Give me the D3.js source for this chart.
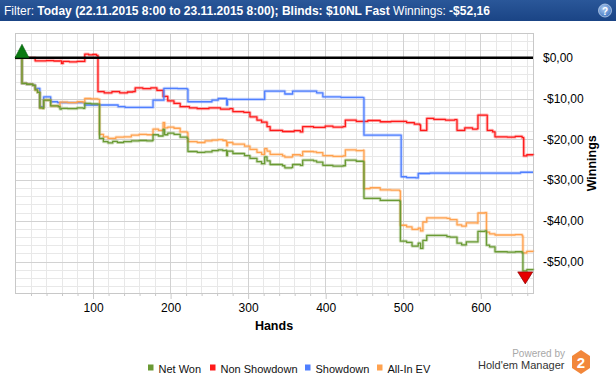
<!DOCTYPE html>
<html><head><meta charset="utf-8">
<script src="https://cdn.jsdelivr.net/npm/d3@7"></script>
<style>
html,body{margin:0;padding:0;background:#fff;}
svg{display:block;font-family:"Liberation Sans",Arial,sans-serif;}
</style></head>
<body><svg id="c" width="616" height="380"></svg>
<script>
// ---------- data ----------
const titleParts = [
  {t:"Filter: ", b:false},
  {t:"Today (22.11.2015 8:00 to 23.11.2015 8:00); Blinds: $10NL Fast", b:true},
  {t:" Winnings: ", b:false},
  {t:"-$52,16", b:true}
];
const seriesNames = ["Net Won","Non Showdown","Showdown","All-In EV"];
const seriesColors = ["#6a9a34","#ff1a1a","#4f7fff","#ffa24f"];
const xTickValues = [100,200,300,400,500,600];
const yTickValues = [0,-10,-20,-30,-40,-50];
const yTickLabels = ["$0,00","-$10,00","-$20,00","-$30,00","-$40,00","-$50,00"];

// [hand, cumulative $] (step after)
const netWon = [[0,0],[9,-6.3],[15,-6.5],[23,-6.8],[26,-7.9],[29,-8.5],[32,-12.3],[36,-12.4],[37,-10.4],[45,-10.4],[46,-11.8],[56,-12.0],[58,-12.6],[60,-12.4],[68,-12.5],[80,-12.3],[88,-12.4],[90,-11.2],[98,-11.3],[107,-11.4],[109,-19.8],[114,-20.6],[120,-20.9],[126,-20.5],[132,-20.8],[140,-20.6],[150,-20.4],[160,-20.3],[170,-20.4],[177,-20.3],[178,-18.9],[185,-19.2],[191,-17.6],[193,-18.9],[197,-18.5],[205,-18.8],[213,-19.5],[222,-19.8],[223,-23.0],[235,-23.2],[245,-23.1],[254,-22.8],[262,-22.6],[268,-22.8],[272,-22.7],[273,-24.0],[274,-22.9],[281,-23.5],[296,-24.0],[303,-24.7],[312,-25.5],[318,-26.0],[322,-24.3],[325,-25.3],[329,-26.2],[345,-26.5],[348,-27.0],[357,-26.9],[358,-26.2],[368,-26.4],[371,-25.1],[385,-25.3],[389,-25.6],[397,-26.4],[410,-26.6],[423,-26.5],[426,-25.1],[440,-25.4],[449,-25.5],[450,-34.5],[458,-34.5],[471,-35.0],[485,-35.0],[496,-35.2],[497,-45.0],[505,-45.3],[512,-46.2],[520,-45.5],[523,-46.8],[526,-44.8],[531,-43.6],[557,-43.9],[561,-44.0],[570,-45.5],[576,-45.9],[582,-45.2],[596,-45.2],[597,-42.6],[606,-42.5],[608,-46.0],[612,-46.4],[619,-47.6],[635,-47.7],[645,-47.6],[654,-47.9],[655,-52.3],[660,-52.0],[668,-52.16]];

const nonShowdown = [[0,0],[23,0],[26,-0.75],[40,-0.7],[50,-0.8],[58,-0.75],[60,-1.4],[62,-0.9],[70,-1.0],[80,-0.9],[88,-0.9],[90,0.9],[95,0.7],[100,0.8],[105,0.6],[107,-8.3],[115,-8.6],[125,-8.3],[135,-8.6],[145,-8.4],[152,-8.3],[155,-7.4],[165,-7.6],[175,-7.4],[182,-7.4],[183,-8.0],[191,-9.5],[197,-10.6],[205,-11.2],[213,-12.0],[225,-12.3],[235,-12.5],[250,-12.3],[265,-12.6],[277,-12.5],[281,-13.2],[295,-13.4],[303,-14.5],[312,-15.3],[318,-15.8],[325,-16.9],[329,-17.8],[345,-18.1],[360,-17.9],[368,-18.2],[371,-16.9],[385,-17.1],[400,-16.8],[410,-17.0],[423,-16.9],[426,-15.3],[440,-15.6],[455,-15.4],[471,-15.7],[485,-15.6],[496,-15.6],[505,-15.9],[515,-16.3],[522,-16.5],[523,-17.8],[531,-14.9],[540,-15.1],[555,-15.3],[567,-15.2],[570,-17.8],[580,-17.2],[590,-17.5],[596,-17.4],[597,-14.1],[606,-14.1],[609,-17.8],[616,-18.2],[619,-19.4],[635,-19.5],[645,-19.3],[654,-19.6],[656,-24.1],[660,-23.8],[668,-23.9]];

const showdown = [[0,0],[9,-6.3],[15,-6.5],[23,-6.7],[26,-7.5],[31,-7.5],[32,-12.0],[36,-12.0],[37,-9.6],[45,-9.6],[46,-10.8],[55,-11.0],[70,-11.0],[88,-11.0],[90,-11.6],[132,-11.6],[133,-12.0],[142,-12.2],[177,-12.2],[178,-10.4],[191,-10.4],[192,-7.5],[210,-7.6],[222,-7.7],[223,-10.8],[254,-10.4],[262,-10.0],[272,-10.0],[273,-11.6],[274,-10.2],[321,-10.2],[322,-8.2],[347,-8.2],[348,-8.9],[357,-8.9],[358,-8.2],[388,-8.2],[389,-8.6],[397,-9.6],[420,-9.7],[449,-9.8],[450,-19.0],[497,-19.0],[498,-29.2],[505,-29.4],[517,-29.5],[520,-28.4],[535,-28.3],[651,-28.3],[652,-28.1],[668,-28.1]];

const allInEV = [[0,0],[9,-6.3],[15,-6.5],[23,-6.8],[26,-7.9],[29,-8.5],[32,-12.3],[36,-12.4],[37,-10.4],[45,-10.4],[46,-11.8],[56,-12.0],[58,-10.9],[68,-11.0],[80,-10.8],[88,-11.0],[90,-10.0],[98,-10.1],[107,-10.2],[109,-18.8],[114,-19.4],[120,-19.8],[130,-19.5],[140,-19.4],[150,-19.0],[160,-18.8],[170,-18.9],[177,-18.8],[178,-17.5],[185,-17.8],[191,-15.9],[193,-17.2],[197,-17.0],[205,-17.3],[213,-18.2],[222,-18.4],[223,-20.6],[235,-20.8],[245,-20.4],[254,-20.2],[262,-20.1],[268,-20.3],[272,-20.4],[273,-21.6],[274,-20.8],[281,-21.2],[296,-21.7],[303,-22.5],[312,-23.2],[318,-23.7],[322,-22.3],[325,-22.9],[329,-23.7],[345,-24.1],[348,-24.4],[357,-24.3],[358,-23.8],[368,-24.0],[371,-23.0],[385,-23.1],[389,-23.3],[397,-24.0],[410,-24.2],[423,-24.1],[426,-22.6],[440,-22.8],[449,-22.7],[450,-32.1],[458,-31.9],[471,-32.4],[485,-32.5],[496,-32.7],[497,-41.1],[505,-41.5],[512,-42.1],[520,-41.8],[523,-42.5],[526,-40.3],[531,-39.3],[557,-39.4],[561,-39.7],[570,-41.0],[576,-41.3],[582,-40.5],[596,-40.6],[597,-38.1],[606,-38.0],[608,-42.8],[612,-43.2],[619,-43.5],[635,-43.5],[645,-43.4],[654,-43.7],[655,-47.9],[660,-47.5],[668,-47.6]];

const maxMarker = [9, 0];
const minMarker = [658, -52.3];
const handsDomain = [0, 668];
const yDomain = [6, -57.8];

// ---------- drawing ----------
const svg = d3.select("#c");
const L = 15, R = 533, T = 33.3, B = 293.3;
const x = d3.scaleLinear().domain(handsDomain).range([L, R]);
const y = d3.scaleLinear().domain(yDomain).range([T, B]);

// title bar
const hdr = svg.append("g");
const grad = svg.append("defs").append("linearGradient").attr("id","hg").attr("x1",0).attr("y1",0).attr("x2",0).attr("y2",1);
grad.append("stop").attr("offset","0%").attr("stop-color","#2a5799");
grad.append("stop").attr("offset","100%").attr("stop-color","#1a4485");
hdr.append("rect").attr("x",0).attr("y",0).attr("width",616).attr("height",21).attr("fill","url(#hg)");
const tt = hdr.append("text").attr("x",4).attr("y",15).attr("fill","#fff").style("font-size","12px");
titleParts.forEach(p => tt.append("tspan").attr("font-weight", p.b ? "bold" : "normal").text(p.t));
const qg = svg.append("defs").append("radialGradient").attr("id","qg").attr("cx","40%").attr("cy","35%").attr("r","70%");
qg.append("stop").attr("offset","0%").attr("stop-color","#a9c8ef");
qg.append("stop").attr("offset","100%").attr("stop-color","#3f74c0");
hdr.append("circle").attr("cx",605).attr("cy",10.5).attr("r",6.5).attr("fill","url(#qg)").attr("stroke","#cfe0f5").attr("stroke-width",0.7);
hdr.append("text").attr("x",605).attr("y",14.5).attr("text-anchor","middle").attr("fill","#fff").attr("font-weight","bold").style("font-size","10px").text("?");

// plot background + grid
const grid = svg.append("g");
grid.append("rect").attr("x",L).attr("y",T).attr("width",R-L).attr("height",B-T).attr("fill","#fff");
const yMinor = d3.range(-56, 7, 2).filter(v => v % 10 !== 0);
const xMinor = d3.range(20, 668, 20).filter(v => v % 100 !== 0);
grid.selectAll(".ym").data(yMinor).join("line")
  .attr("x1",L).attr("x2",R).attr("y1",d=>Math.round(y(d))+0.5).attr("y2",d=>Math.round(y(d))+0.5)
  .attr("stroke","#e8e8e8").attr("stroke-width",1);
grid.selectAll(".xm").data(xMinor).join("line")
  .attr("y1",T).attr("y2",B).attr("x1",d=>Math.round(x(d))+0.5).attr("x2",d=>Math.round(x(d))+0.5)
  .attr("stroke","#e8e8e8").attr("stroke-width",1);
grid.selectAll(".yM").data(yTickValues.filter(v=>v!==0)).join("line")
  .attr("x1",L).attr("x2",R).attr("y1",d=>Math.round(y(d))+0.5).attr("y2",d=>Math.round(y(d))+0.5)
  .attr("stroke","#d2d2d2").attr("stroke-width",1);
grid.selectAll(".xM").data(xTickValues).join("line")
  .attr("y1",T).attr("y2",B).attr("x1",d=>Math.round(x(d))+0.5).attr("x2",d=>Math.round(x(d))+0.5)
  .attr("stroke","#d2d2d2").attr("stroke-width",1);
grid.append("rect").attr("x",L+0.5).attr("y",Math.round(T)+0.5).attr("width",R-L).attr("height",Math.round(B-T))
  .attr("fill","none").attr("stroke","#c8c8c8").attr("stroke-width",1);

// x axis ticks & labels
const xAxisMinor = d3.axisBottom(x).tickValues(xMinor).tickSize(3).tickFormat("");
const gxm = svg.append("g").attr("transform",`translate(0.5,${Math.round(B)})`).call(xAxisMinor);
const xAxis = d3.axisBottom(x).tickValues(xTickValues).tickSize(6).tickPadding(4).tickFormat(d3.format("d"));
const gx = svg.append("g").attr("transform",`translate(0.5,${Math.round(B)})`).call(xAxis);
[gxm,gx].forEach(g => { g.select(".domain").remove(); g.selectAll("line").attr("stroke","#c8c8c8"); });
gx.selectAll("text").attr("fill","#000").style("font-size","12px").style("font-family","Liberation Sans, Arial, sans-serif");
svg.append("text").attr("x",(L+R)/2).attr("y",330).attr("text-anchor","middle").attr("font-weight","bold")
  .style("font-size","12.5px").attr("fill","#000").text("Hands");

// y labels
svg.selectAll(".yl").data(yTickValues).join("text")
  .attr("x",543).attr("y",d=>y(d)).attr("dy","0.36em").attr("fill","#000").style("font-size","12px")
  .text((d,i)=>yTickLabels[i]);
svg.append("text").attr("transform",`translate(596,${(T+B)/2}) rotate(-90)`).attr("text-anchor","middle")
  .attr("font-weight","bold").style("font-size","12.5px").attr("fill","#000").text("Winnings");

// lines
const line = d3.line().x(d=>x(d[0])).y(d=>y(d[1])).curve(d3.curveStepAfter);
const allSeries = [netWon, nonShowdown, showdown, allInEV];
const drawOrder = [1, 2, 3, 0];
const lg = svg.append("g");
drawOrder.forEach(i => {
  lg.append("path").attr("d", line(allSeries[i])).attr("fill","none").attr("stroke",seriesColors[i])
    .attr("stroke-opacity",0.3).attr("stroke-width",3.2).attr("stroke-linejoin","round");
  lg.append("path").attr("d", line(allSeries[i])).attr("fill","none").attr("stroke",seriesColors[i])
    .attr("stroke-width",1.3).attr("stroke-linejoin","round");
});
// zero line
svg.append("line").attr("x1",L).attr("x2",R).attr("y1",y(0)).attr("y2",y(0)).attr("stroke","#000").attr("stroke-width",2.4);

// markers
const mx = x(maxMarker[0]), my = y(maxMarker[1]);
svg.append("path").attr("d",`M${mx-7},${my} L${mx+7},${my} L${mx},${my-13.5} Z`).attr("fill","#0b7a12").attr("stroke","#0a5e10").attr("stroke-width",0.6);
const nx = x(minMarker[0]), ny = y(minMarker[1]);
svg.append("path").attr("d",`M${nx-7.5},${ny+1} L${nx+7.5},${ny+1} L${nx},${ny+13} Z`).attr("fill","#e60000").attr("stroke","#8a0000").attr("stroke-width",0.7);

// legend
const legX = [148, 210, 305, 377];
const leg = svg.append("g");
seriesNames.forEach((n,i) => {
  leg.append("rect").attr("x",legX[i]).attr("y",364.5).attr("width",5.5).attr("height",6).attr("fill",seriesColors[i]);
  leg.append("text").attr("x",legX[i]+10.5).attr("y",372.5).style("font-size","11px").attr("fill","#111").text(n);
});

// logo
svg.append("text").attr("x",565).attr("y",357).attr("text-anchor","end").style("font-size","10px").attr("fill","#a8a8a8").text("Powered by");
svg.append("text").attr("x",564.5).attr("y",369).attr("text-anchor","end").style("font-size","11px").attr("fill","#333").text("Hold'em Manager");
const hx = 581, hy = 362, hw = 9, hh = 12;
svg.append("path").attr("d",`M${hx},${hy-hh} L${hx+hw},${hy-hh/2} L${hx+hw},${hy+hh/2} L${hx},${hy+hh} L${hx-hw},${hy+hh/2} L${hx-hw},${hy-hh/2} Z`)
  .attr("fill","#f2873a");
svg.append("text").attr("x",hx).attr("y",hy+5.5).attr("text-anchor","middle").attr("font-weight","bold").style("font-size","15px").attr("fill","#fff").text("2");
</script></body></html>
